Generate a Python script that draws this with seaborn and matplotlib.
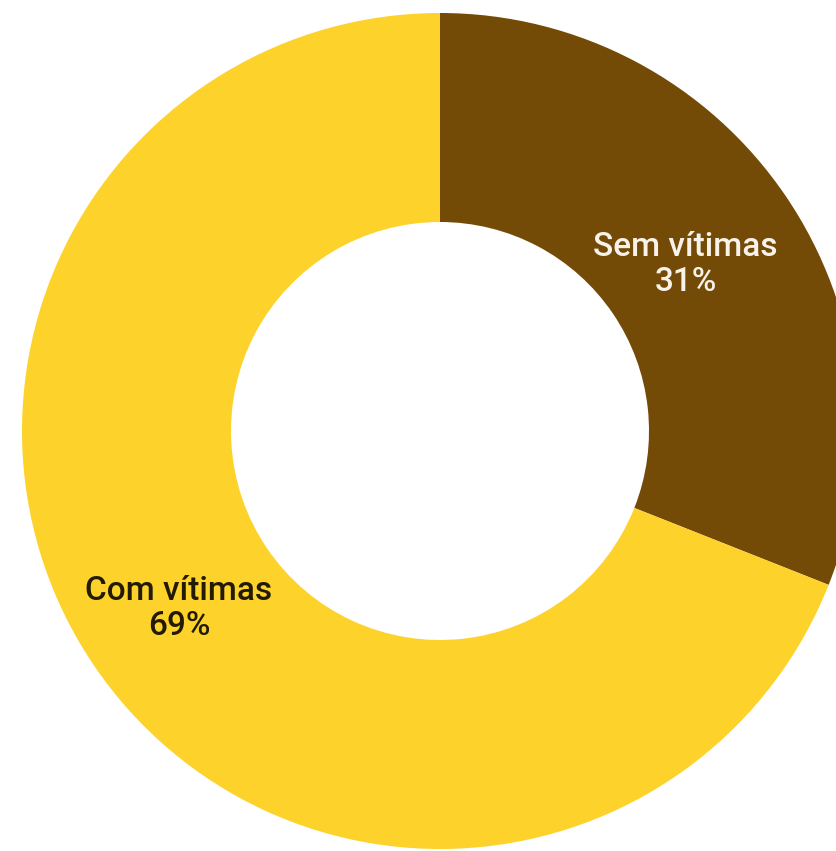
import matplotlib
matplotlib.use("Agg")
import matplotlib.pyplot as plt
import numpy as np
import pandas as pd
import seaborn as sns

# Share of occurrences with and without victims
categories = ["Sem vítimas", "Com vítimas"]
shares = [31, 69]
slice_colors = ["#744A07", "#FDD22A"]
label_colors = ["#F7F2EA", "#231A02"]

df = pd.DataFrame({"categoria": categories, "pct": shares})

sns.set_theme(style="white")
plt.rcParams["font.family"] = ["Roboto", "DejaVu Sans"]

fig = plt.figure(figsize=(8.36, 8.51), dpi=100)
ax = fig.add_axes([0, 0, 1, 1])
ax.set_axis_off()

palette = sns.color_palette(slice_colors)
wedges, _ = ax.pie(
    df["pct"],
    colors=palette,
    startangle=90,
    counterclock=False,
    radius=1.0,
    wedgeprops=dict(width=0.5, edgecolor="none", linewidth=0),
)

# label each ring segment at its mid-angle, inside the band
label_r = [0.71, 0.755]
for w, cat, pct, tc, r in zip(wedges, df["categoria"], df["pct"], label_colors, label_r):
    mid = np.deg2rad((w.theta1 + w.theta2) / 2)
    ax.text(r * np.cos(mid), r * np.sin(mid), f"{cat}\n{pct}%",
            ha="center", va="center", fontsize=24, fontweight="medium",
            color=tc, linespacing=1.12)

# ring centred off-axis, slightly clipped at the right edge
px = 418.0
ax.set_xlim(-440 / px, (836 - 440) / px)
ax.set_ylim(-(851 - 431) / px, 431 / px)
ax.set_aspect("auto")

fig.savefig("out.png", dpi=100, facecolor="white")
